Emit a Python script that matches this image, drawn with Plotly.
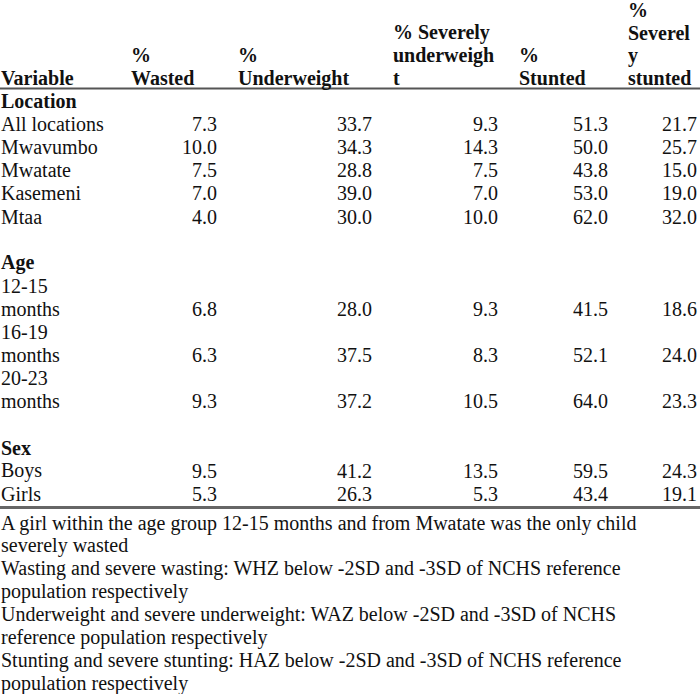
import plotly.graph_objects as go

# ---------------- data ----------------
headers = [["Variable"], ["%", "Wasted"], ["%", "Underweight"], ["% Severely", "underweigh", "t"],
           ["%", "Stunted"], ["%", "Severel", "y", "stunted"]]

location_labels = ["All locations", "Mwavumbo", "Mwatate", "Kasemeni", "Mtaa"]
wasted_loc = [7.3, 10.0, 7.5, 7.0, 4.0]
under_loc = [33.7, 34.3, 28.8, 39.0, 30.0]
sevunder_loc = [9.3, 14.3, 7.5, 7.0, 10.0]
stunted_loc = [51.3, 50.0, 43.8, 53.0, 62.0]
sevstunt_loc = [21.7, 25.7, 15.0, 19.0, 32.0]

age_labels = ["12-15 months", "16-19 months", "20-23 months"]
wasted_age = [6.8, 6.3, 9.3]
under_age = [28.0, 37.5, 37.2]
sevunder_age = [9.3, 8.3, 10.5]
stunted_age = [41.5, 52.1, 64.0]
sevstunt_age = [18.6, 24.0, 23.3]

sex_labels = ["Boys", "Girls"]
wasted_sex = [9.5, 5.3]
under_sex = [41.2, 26.3]
sevunder_sex = [13.5, 5.3]
stunted_sex = [59.5, 43.4]
sevstunt_sex = [24.3, 19.1]

footnotes = [
    "A girl within the age group 12-15 months and from Mwatate was the only child",
    "severely wasted",
    "Wasting and severe wasting: WHZ below -2SD and -3SD of NCHS reference",
    "population respectively",
    "Underweight and severe underweight: WAZ below -2SD and -3SD of NCHS",
    "reference population respectively",
    "Stunting and severe stunting: HAZ below -2SD and -3SD of NCHS reference",
    "population respectively",
]

# ---------------- layout params ----------------
W, H = 700, 694
FONT = "Liberation Serif, Times New Roman, serif"
FS = 20
COLOR = "#111111"
header_left = [0, 130, 237, 392, 518, 627]
value_right = [218, 373, 499, 609, 698]
header_last_y, header_step = 78, 22.6
row_y0, row_step = 101, 23.1
foot_y0, foot_step = 523, 22.9
top_line_y, bottom_line_y = 88.5, 507.5

annotations = []
def txt(x, y, s, anchor="left", bold=False, yanchor="middle"):
    annotations.append(dict(x=x, y=y, xref="x", yref="y", text=f"<b>{s}</b>" if bold else s,
                            showarrow=False, xanchor=anchor, yanchor=yanchor, borderpad=0,
                            font=dict(family=FONT, size=FS, color=COLOR)))

# headers (one annotation per wrapped line, bottom aligned)
for i, lines in enumerate(headers):
    n = len(lines)
    for k, s in enumerate(lines):
        txt(header_left[i], header_last_y - (n - 1 - k) * header_step, s, bold=True)

sections = [
    ("Location", location_labels, [wasted_loc, under_loc, sevunder_loc, stunted_loc, sevstunt_loc]),
    ("Age", age_labels, [wasted_age, under_age, sevunder_age, stunted_age, sevstunt_age]),
    ("Sex", sex_labels, [wasted_sex, under_sex, sevunder_sex, stunted_sex, sevstunt_sex]),
]

line = 0
for si, (title, labels, cols) in enumerate(sections):
    if si > 0:
        line += 1  # blank line
    txt(header_left[0], row_y0 + line * row_step, title, bold=True)
    line += 1
    for r, lab in enumerate(labels):
        parts = lab.split(" ") if title == "Age" else [lab]
        for p in parts:
            txt(header_left[0], row_y0 + line * row_step, p)
            line += 1
        yv = row_y0 + (line - 1) * row_step
        for c, colvals in enumerate(cols):
            txt(value_right[c], yv, f"{colvals[r]:.1f}", anchor="right")

for j, f in enumerate(footnotes):
    txt(header_left[0], foot_y0 + j * foot_step, f)

shapes = [
    dict(type="line", xref="x", yref="y", x0=0, x1=W, y0=top_line_y, y1=top_line_y,
         line=dict(color="#555555", width=2)),
    dict(type="line", xref="x", yref="y", x0=0, x1=W, y0=bottom_line_y, y1=bottom_line_y,
         line=dict(color="#666666", width=3)),
]

fig = go.Figure()
fig.add_trace(go.Scatter(x=[0, W], y=[0, H], mode="markers", marker=dict(opacity=0),
                         hoverinfo="skip", showlegend=False))
fig.update_layout(
    width=W, height=H, margin=dict(l=0, r=0, t=0, b=0),
    paper_bgcolor="white", plot_bgcolor="white",
    xaxis=dict(range=[0, W], visible=False, fixedrange=True),
    yaxis=dict(range=[H, 0], visible=False, fixedrange=True),
    annotations=annotations, shapes=shapes, showlegend=False,
)
fig.write_html("out.html", config={"displayModeBar": False},
               post_script="document.body.style.margin='0';document.body.style.overflow='hidden';")
